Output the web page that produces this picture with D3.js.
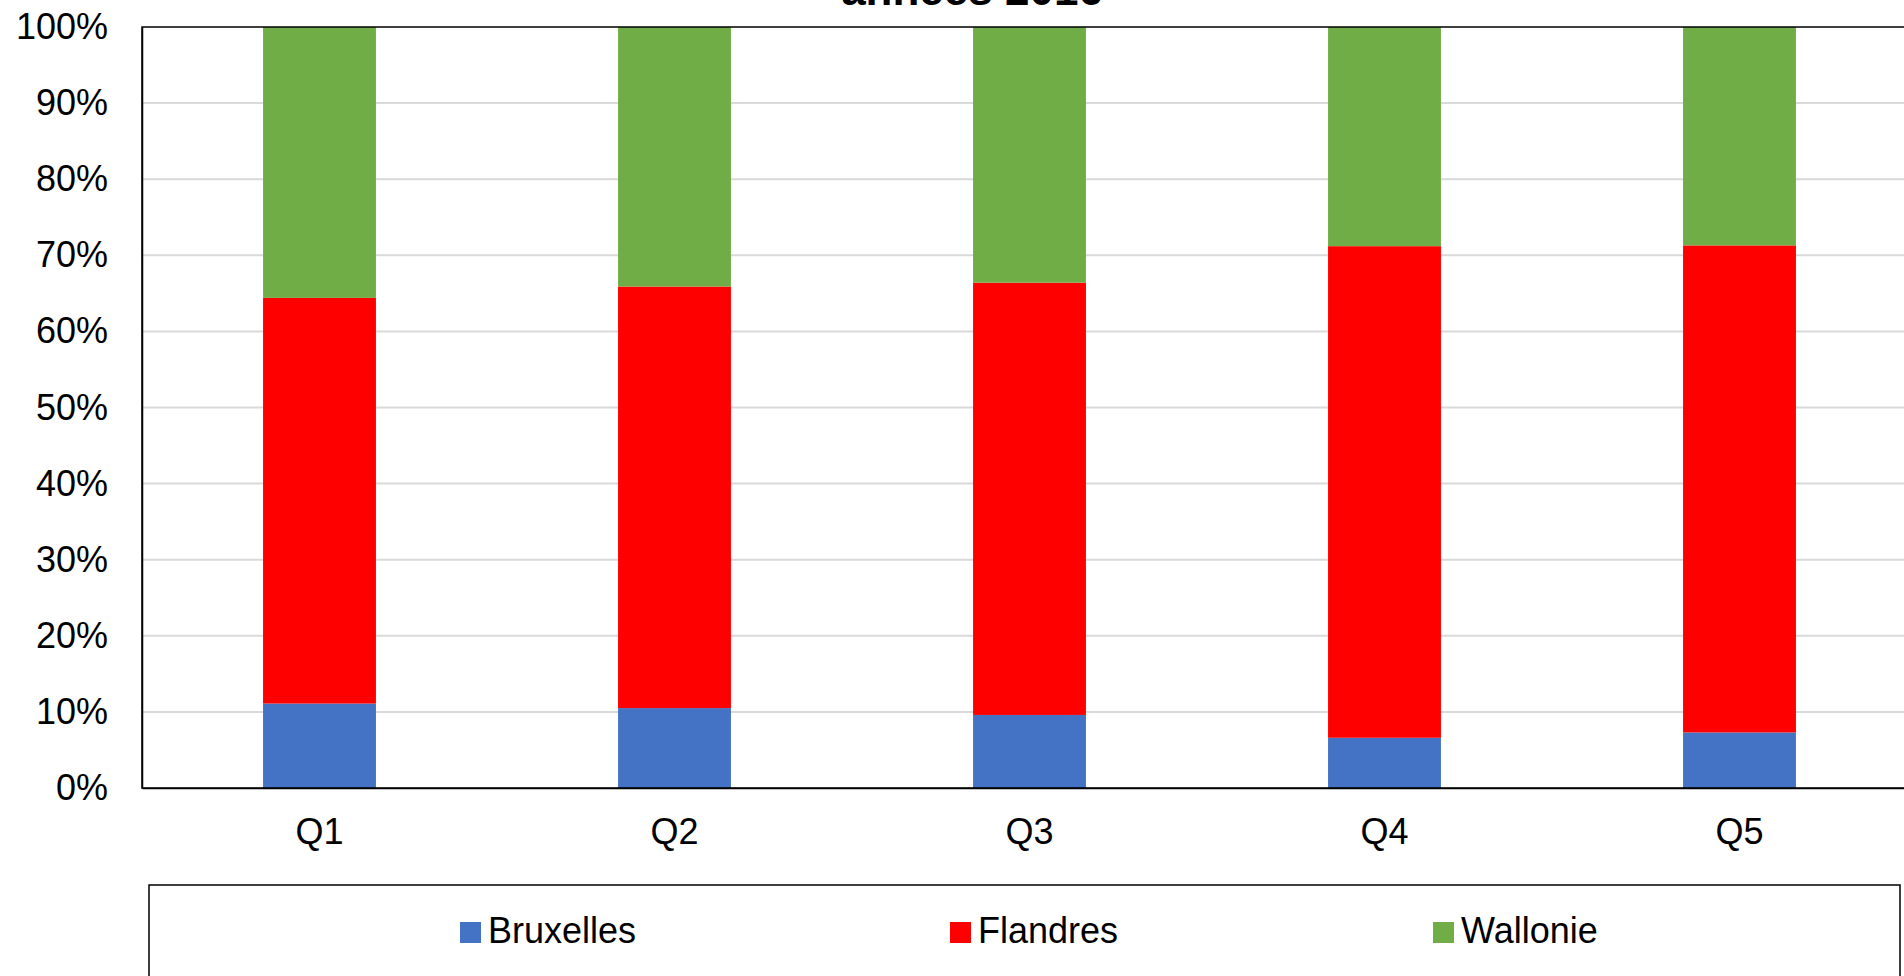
<!DOCTYPE html>
<html>
<head>
<meta charset="utf-8">
<script src="https://cdnjs.cloudflare.com/ajax/libs/d3/7.8.5/d3.min.js"></script>
<style>
  html, body { margin: 0; padding: 0; background: #fff; overflow: hidden; }
  svg { display: block; font-family: "Liberation Sans", Arial, sans-serif; }
</style>
</head>
<body>
<svg id="chart" width="1904" height="976"></svg>
<script>
const categories = ["Q1", "Q2", "Q3", "Q4", "Q5"];
const seriesNames = ["Bruxelles", "Flandres", "Wallonie"];
const bruxelles = [11.1, 10.5, 9.6, 6.6, 7.3];
const flandres = [53.3, 55.4, 56.8, 64.6, 64.0];
const wallonie = [35.6, 34.1, 33.6, 28.8, 28.7];
const yTicks = [0, 10, 20, 30, 40, 50, 60, 70, 80, 90, 100];
const titleText = "années 2016";
const colors = ["#4472C4", "#FF0000", "#70AD47"];

const svg = d3.select("#chart");
const plot = { left: 142, top: 27, right: 1917, bottom: 788 };

const x = d3.scaleBand().domain(categories)
  .range([plot.left, plot.right]).paddingInner(0.682).paddingOuter(0.341);
const y = d3.scaleLinear().domain([0, 100]).range([plot.bottom, plot.top]);

// title (mostly clipped above the viewport, as in the reference)
svg.append("text").attr("x", 972).attr("y", 5).attr("text-anchor", "middle")
  .attr("font-size", 44).attr("font-weight", "bold").attr("fill", "#000")
  .text(titleText);

// gridlines
svg.append("g").selectAll("line").data(yTicks.filter(d => d > 0 && d < 100)).join("line")
  .attr("x1", plot.left).attr("x2", plot.right)
  .attr("y1", d => y(d)).attr("y2", d => y(d))
  .attr("stroke", "#d9d9d9").attr("stroke-width", 2);

// stacked data
const rows = categories.map((c, i) => ({ cat: c, Bruxelles: bruxelles[i], Flandres: flandres[i], Wallonie: wallonie[i] }));
const stack = d3.stack().keys(seriesNames)(rows);

svg.append("g").selectAll("g").data(stack).join("g")
  .attr("fill", (d, i) => colors[i])
  .selectAll("rect").data(d => d).join("rect")
  .attr("x", d => x(d.data.cat))
  .attr("width", x.bandwidth())
  .attr("y", d => y(Math.min(100, d[1])))
  .attr("height", d => y(d[0]) - y(Math.min(100, d[1])));

// plot frame
svg.append("rect").attr("x", plot.left).attr("y", plot.top)
  .attr("width", plot.right - plot.left).attr("height", plot.bottom - plot.top)
  .attr("fill", "none").attr("stroke", "#000").attr("stroke-width", 1.5);

// y axis labels
const yAxis = d3.axisLeft(y).tickValues(yTicks).tickSize(0).tickPadding(34)
  .tickFormat(d => d + "%");
const gy = svg.append("g").attr("transform", `translate(${plot.left},0)`).call(yAxis);
gy.select(".domain").attr("stroke", "#000").attr("stroke-width", 1.5);
gy.selectAll("text").attr("font-size", 36).attr("fill", "#000")
  .attr("font-family", "'Liberation Sans', Arial, sans-serif");

// x axis labels
const xAxis = d3.axisBottom(x).tickSize(0).tickPadding(30);
const gx = svg.append("g").attr("transform", `translate(0,${plot.bottom})`).call(xAxis);
gx.select(".domain").attr("stroke", "#000").attr("stroke-width", 1.5);
gx.selectAll("text").attr("font-size", 36).attr("fill", "#000")
  .attr("font-family", "'Liberation Sans', Arial, sans-serif");

// legend
const legend = svg.append("g");
legend.append("rect").attr("x", 149).attr("y", 885).attr("width", 1751).attr("height", 130)
  .attr("fill", "#fff").attr("stroke", "#000").attr("stroke-width", 1.5);
const legendX = [460, 950, 1433];
const li = legend.selectAll("g.item").data(seriesNames).join("g").attr("class", "item")
  .attr("transform", (d, i) => `translate(${legendX[i]},0)`);
li.append("rect").attr("x", 0).attr("y", 922).attr("width", 21).attr("height", 21)
  .attr("fill", (d, i) => colors[i]);
li.append("text").attr("x", 28).attr("y", 943).attr("font-size", 36).attr("fill", "#000")
  .text(d => d);
</script>
</body>
</html>
